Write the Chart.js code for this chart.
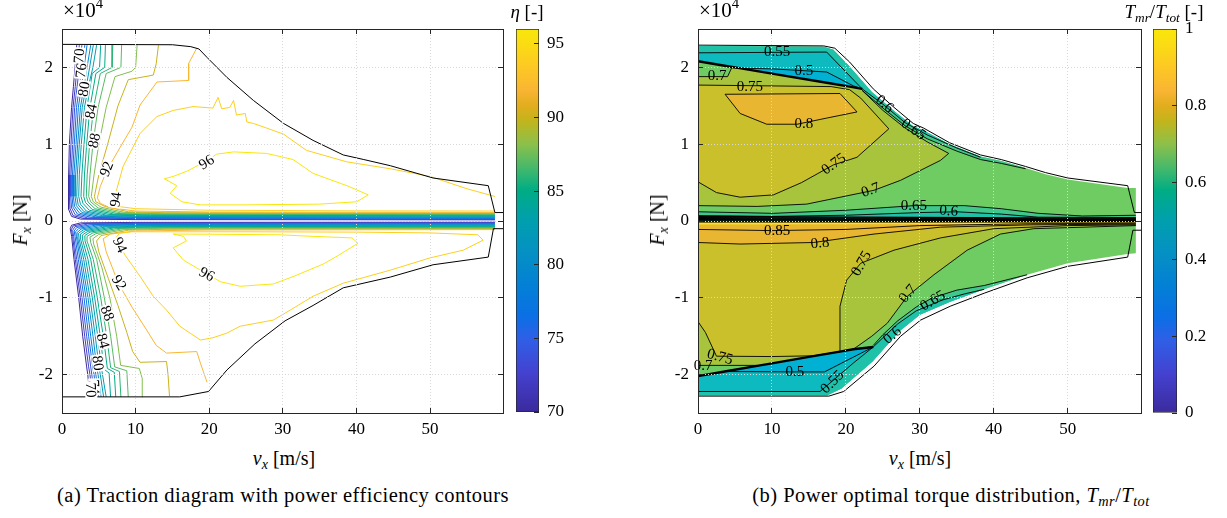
<!DOCTYPE html>
<html>
<head>
<meta charset="utf-8">
<title>Traction diagram and torque distribution</title>
<script src="https://cdn.jsdelivr.net/npm/chart.js@4.4.1/dist/chart.umd.min.js"></script>
<style>
  body { margin:0; width:1227px; height:518px; background:#fff; position:relative; overflow:hidden;
         font-family:'Liberation Serif','DejaVu Serif',serif; color:#000; }
  canvas { position:absolute; top:0; }
  .txt { position:absolute; white-space:nowrap; line-height:1; font-size:20px; }
  .cap { font-size:20.5px; letter-spacing:0.45px; }
  .mid { transform:translateX(-50%); }
  .vert { transform:translate(-50%,-50%) rotate(-90deg); }
  sub { font-size:70%; vertical-align:-0.3em; line-height:0; }
  sup { font-size:70%; vertical-align:0.6em; line-height:0; }
</style>
</head>
<body>
<canvas id="effChart" width="505" height="445" style="left:0"></canvas>
<canvas id="effBar" width="62" height="445" style="left:510px"></canvas>
<canvas id="ratioChart" width="507" height="445" style="left:636px"></canvas>
<canvas id="ratioBar" width="80" height="445" style="left:1147px"></canvas>

<div class="txt" style="left:63px;top:0px;font-size:21px">×10<sup>4</sup></div>
<div class="txt" style="left:699px;top:0px;font-size:21px">×10<sup>4</sup></div>
<div class="txt mid" style="left:527px;top:2px;font-size:19px"><i>η</i> [-]</div>
<div class="txt mid" style="left:1164px;top:2px;font-size:19px"><i>T<sub>mr</sub></i>/<i>T<sub>tot</sub></i> [-]</div>
<div class="txt vert" style="left:20px;top:220px"><i>F<sub>x</sub></i> [N]</div>
<div class="txt vert" style="left:657px;top:220px"><i>F<sub>x</sub></i> [N]</div>
<div class="txt mid" style="left:284px;top:448px"><i>v<sub>x</sub></i> [m/s]</div>
<div class="txt mid" style="left:920px;top:448px"><i>v<sub>x</sub></i> [m/s]</div>
<div class="txt mid cap" style="left:283px;top:485px">(a) Traction diagram with power efficiency contours</div>
<div class="txt mid cap" style="left:951px;top:485px">(b) Power optimal torque distribution, <i>T<sub>mr</sub></i>/<i>T<sub>tot</sub></i></div>

<script>
const FONT = "'Liberation Serif','DejaVu Serif',serif";
const INK = '#262626';

// ticks (F_x is kept in units of 1e4 N, as on the axis)
const vTicks = [0, 10, 20, 30, 40, 50];
const fTicks = [-2, -1, 0, 1, 2];
const etaTicks = [70, 75, 80, 85, 90, 95];
const ratioTicks = [0, 0.2, 0.4, 0.6, 0.8, 1];

// colormap
const cmapStops = [[0,'#3b2a9c'],[0.1,'#4441cf'],[0.19,'#2f5fe6'],[0.25,'#0b6fe5'],[0.33,'#0380d6'],
  [0.42,'#0591c3'],[0.5,'#009fae'],[0.58,'#00ad84'],[0.64,'#48b96a'],[0.7,'#8cc04a'],[0.76,'#c2b51c'],
  [0.8,'#e2ad1e'],[0.84,'#f9b533'],[0.9,'#fdc824'],[0.95,'#fbd916'],[1,'#f9e70b']];

// ---------- (a) traction limits and efficiency contours [v_x, F_x] ----------
const aBoundUp = [[0,2.3],[15,2.295],[17.5,2.27],[18.6,2.24],[19.7,2.13],[22.4,1.87],[26,1.57],[30.1,1.27],[34.1,1.05],[38.2,0.86],[41,0.8],[44.6,0.72],[50.4,0.56],[57.9,0.46],[58.8,0.11],[60,0.11]];
const aBoundLo = [[0,-2.29],[16,-2.29],[19.9,-2.22],[22.4,-1.94],[26.2,-1.6],[30.3,-1.3],[34.1,-1.1],[38.2,-0.87],[44.6,-0.73],[50.4,-0.57],[57.9,-0.47],[58.6,-0.1],[60,-0.1]];

const etaUp70 = [[2.0,2.29],[1.77,2.0],[1.55,1.75],[1.3,1.48],[1.0,1.0],[0.9,0.6],[0.86,0.32],[0.95,0.15],[1.3,0.06],[2.5,0.025],[10,0.018],[58.8,0.015]];
const etaUp72 = [[2.35,2.29],[2.05,2.0],[1.8,1.75],[1.5,1.48],[1.22,1.0],[1.05,0.6],[1.0,0.32],[1.1,0.16],[1.5,0.07],[3,0.032],[10,0.024],[58.8,0.021]];
const etaUp74 = [[2.7,2.29],[2.35,2.0],[2.05,1.75],[1.72,1.48],[1.45,1.0],[1.22,0.6],[1.18,0.32],[1.3,0.17],[1.8,0.08],[3.5,0.04],[10,0.031],[58.8,0.027]];
const etaUp76 = [[3.1,2.29],[2.7,2.0],[2.35,1.75],[1.97,1.48],[1.67,1.0],[1.42,0.6],[1.36,0.32],[1.5,0.18],[2.1,0.09],[4,0.047],[10,0.038],[58.8,0.034]];
const etaUp78 = [[3.4,2.29],[3.0,2.0],[2.65,1.75],[2.22,1.48],[1.9,1.0],[1.62,0.6],[1.54,0.32],[1.7,0.19],[2.4,0.1],[4.5,0.055],[10,0.045],[58.8,0.041]];
const etaUp80 = [[3.9,2.29],[3.4,2.0],[3.0,1.75],[2.5,1.48],[2.13,1.0],[1.85,0.6],[1.77,0.32],[1.95,0.2],[2.7,0.11],[5,0.062],[10,0.052],[58.8,0.048]];
const etaUp82 = [[4.25,2.29],[3.75,2.0],[3.3,1.75],[2.75,1.48],[2.35,1.0],[2.08,0.6],[2.0,0.32],[2.2,0.21],[3.0,0.12],[5.5,0.07],[10,0.059],[58.8,0.055]];
const etaUp83 = [[4.7,2.29],[4.2,2.0],[3.65,1.78],[3.05,1.48],[2.62,1.0],[2.35,0.6],[2.27,0.32],[2.5,0.22],[3.3,0.13],[6,0.077],[12,0.066],[58.8,0.062]];
const etaUp84 = [[5.25,2.29],[5.1,2.0],[4.1,1.92],[3.4,1.48],[2.99,1.0],[2.7,0.6],[2.58,0.32],[2.85,0.23],[3.7,0.14],[6.5,0.084],[12,0.073],[58.8,0.069]];
const etaUp85 = [[5.9,2.29],[5.8,2.0],[4.6,1.92],[3.8,1.48],[3.35,1.0],[3.05,0.6],[2.95,0.32],[3.2,0.24],[4.1,0.15],[7,0.091],[12,0.08],[58.8,0.076]];
const etaUp86 = [[6.9,2.29],[6.8,2.0],[5.2,1.92],[4.3,1.48],[3.75,1.0],[3.42,0.6],[3.3,0.32],[3.55,0.245],[4.5,0.16],[7.5,0.098],[12,0.087],[58.8,0.083]];
const etaUp87 = [[8.1,2.29],[8.0,2.0],[6.0,1.92],[4.9,1.48],[4.2,1.0],[3.8,0.6],[3.62,0.32],[3.9,0.25],[4.9,0.17],[8,0.105],[14,0.094],[58.8,0.09]];
const etaUp88 = [[10.2,2.29],[10.0,2.0],[9.5,1.95],[7.2,1.88],[6.0,1.48],[5.0,1.0],[4.35,0.6],[3.98,0.32],[4.25,0.25],[5.3,0.18],[8.5,0.112],[14,0.101],[58.8,0.097]];
const etaUp90 = [[13.1,2.29],[12.8,2.05],[12.4,1.9],[9.0,1.84],[7.6,1.5],[6.2,1.0],[5.0,0.6],[4.4,0.32],[4.6,0.25],[5.8,0.19],[9,0.12],[14,0.108],[58.8,0.104]];
const etaUp92 = [[18.3,2.25],[17.2,2.05],[17.2,1.83],[12.9,1.81],[10.6,1.51],[9.5,1.22],[7.9,0.96],[6.1,0.66],[5.2,0.45],[4.8,0.3],[5.2,0.23],[6.6,0.17],[10,0.13],[20,0.117],[58.8,0.112]];
const etaUp94 = [[58.8,0.32],[55,0.42],[50,0.58],[44.6,0.68],[38.7,0.77],[33.2,0.92],[30.1,1.13],[27.8,1.21],[26,1.27],[25.1,1.29],[24.9,1.4],[23.7,1.38],[23.3,1.57],[22.8,1.48],[21.7,1.46],[21.2,1.61],[20.5,1.47],[17.8,1.49],[15.1,1.44],[12.9,1.36],[10.6,1.14],[8.3,0.71],[7.4,0.4],[7.0,0.26],[7.6,0.19],[10,0.16],[20,0.14],[40,0.132],[58.8,0.13]];
const etaUp96 = [[15.1,0.58],[17,0.65],[19.4,0.77],[21,0.87],[23.3,0.9],[27.8,0.88],[31.4,0.8],[34.1,0.62],[38.7,0.46],[41.6,0.34],[40,0.25],[35,0.22],[25,0.21],[18.8,0.21],[16.3,0.25],[14.7,0.36],[15.6,0.46],[13.9,0.55],[15.1,0.58]];

const etaLo70 = [[3.8,-2.29],[3.5,-2.0],[3.35,-1.9],[2.81,-1.5],[2.27,-1.0],[1.63,-0.5],[1.31,-0.2],[1.12,-0.1],[1.3,-0.055],[2.5,-0.025],[10,-0.018],[58.8,-0.015]];
const etaLo72 = [[4.1,-2.29],[3.8,-2.0],[3.62,-1.9],[3.08,-1.5],[2.49,-1.0],[1.81,-0.5],[1.45,-0.2],[1.28,-0.11],[1.5,-0.065],[3,-0.032],[10,-0.024],[58.8,-0.021]];
const etaLo74 = [[4.4,-2.29],[4.05,-2.0],[3.9,-1.9],[3.35,-1.5],[2.72,-1.0],[2.0,-0.5],[1.58,-0.2],[1.45,-0.12],[1.75,-0.075],[3.5,-0.04],[10,-0.031],[58.8,-0.027]];
const etaLo76 = [[4.7,-2.29],[4.35,-2.0],[4.17,-1.9],[3.62,-1.5],[2.99,-1.0],[2.22,-0.5],[1.77,-0.2],[1.65,-0.13],[2.0,-0.085],[4,-0.047],[10,-0.038],[58.8,-0.034]];
const etaLo78 = [[5.0,-2.29],[4.6,-2.0],[4.44,-1.9],[3.9,-1.5],[3.26,-1.0],[2.45,-0.5],[1.95,-0.2],[1.85,-0.14],[2.3,-0.095],[4.5,-0.055],[10,-0.045],[58.8,-0.041]];
const etaLo80 = [[5.3,-2.29],[4.9,-2.0],[4.71,-1.9],[4.21,-1.5],[3.53,-1.0],[2.68,-0.5],[2.13,-0.22],[2.05,-0.15],[2.6,-0.105],[5,-0.062],[10,-0.052],[58.8,-0.048]];
const etaLo82 = [[5.65,-2.29],[5.2,-2.0],[5.03,-1.9],[4.52,-1.5],[3.8,-1.0],[2.95,-0.5],[2.31,-0.23],[2.25,-0.16],[2.9,-0.115],[5.5,-0.07],[10,-0.059],[58.8,-0.055]];
const etaLo83 = [[6.0,-2.29],[5.5,-2.0],[5.34,-1.9],[4.85,-1.5],[4.12,-1.0],[3.22,-0.5],[2.54,-0.24],[2.5,-0.17],[3.2,-0.125],[6,-0.077],[12,-0.066],[58.8,-0.062]];
const etaLo84 = [[6.6,-2.29],[6.4,-1.98],[5.7,-1.93],[5.2,-1.5],[4.44,-1.0],[3.53,-0.5],[2.81,-0.25],[2.8,-0.18],[3.5,-0.135],[6.5,-0.084],[12,-0.073],[58.8,-0.069]];
const etaLo85 = [[7.3,-2.29],[7.1,-1.97],[6.16,-1.92],[5.61,-1.5],[4.8,-1.0],[3.9,-0.5],[3.13,-0.26],[3.1,-0.19],[3.8,-0.145],[7,-0.091],[12,-0.08],[58.8,-0.076]];
const etaLo86 = [[8.0,-2.29],[7.8,-1.96],[6.61,-1.91],[6.07,-1.5],[5.26,-1.0],[4.25,-0.5],[3.44,-0.27],[3.4,-0.2],[4.2,-0.155],[7.5,-0.098],[12,-0.087],[58.8,-0.083]];
const etaLo87 = [[9.0,-2.29],[8.8,-1.95],[7.16,-1.9],[6.61,-1.5],[5.75,-1.0],[4.71,-0.5],[3.9,-0.28],[3.8,-0.21],[4.6,-0.165],[8,-0.105],[14,-0.094],[58.8,-0.09]];
const etaLo88 = [[11.0,-2.29],[10.9,-2.05],[10.5,-1.92],[7.97,-1.88],[7.43,-1.5],[6.5,-1.0],[5.4,-0.6],[4.3,-0.3],[4.2,-0.23],[5.0,-0.175],[8.5,-0.112],[14,-0.101],[58.8,-0.097]];
const etaLo90 = [[14.6,-2.28],[14.4,-2.0],[14.2,-1.83],[10.6,-1.84],[9.6,-1.7],[8.8,-1.45],[7.6,-1.1],[6.3,-0.75],[5.0,-0.4],[4.7,-0.26],[5.3,-0.19],[9,-0.12],[14,-0.108],[58.8,-0.104]];
const etaLo92 = [[58.8,-0.112],[20,-0.117],[10,-0.13],[6.6,-0.17],[5.6,-0.23],[6.0,-0.4],[7.65,-0.81],[9.5,-1.12],[11.5,-1.42],[12.8,-1.62],[14.2,-1.72],[18.3,-1.7],[18.8,-1.85],[19.7,-2.1]];
const etaLo94 = [[9.5,-0.14],[7.8,-0.16],[7.3,-0.22],[7.9,-0.33],[8.6,-0.45],[10.6,-0.72],[12.4,-0.98],[14.2,-1.16],[16,-1.37],[18.8,-1.55],[20.5,-1.52],[22.4,-1.46],[24.2,-1.37],[28.7,-1.29],[31,-1.16],[34.1,-0.98],[38.2,-0.81],[44.6,-0.64],[50,-0.48],[54.5,-0.38],[57.2,-0.25],[56.5,-0.18],[50,-0.155],[40,-0.145],[25,-0.14],[9.5,-0.14]];
const etaLo96 = [[15.1,-0.17],[20,-0.172],[29.6,-0.18],[34.1,-0.2],[39.4,-0.22],[40.2,-0.29],[37.5,-0.45],[35.5,-0.56],[31.5,-0.72],[28.7,-0.82],[24.2,-0.85],[21.5,-0.79],[18.8,-0.64],[16.5,-0.51],[15.1,-0.35],[16.9,-0.26],[16.5,-0.2],[15.1,-0.17]];

const etaContours = [
  [70, etaUp70], [72, etaUp72], [74, etaUp74], [76, etaUp76], [78, etaUp78], [80, etaUp80], [82, etaUp82], [83, etaUp83],
  [84, etaUp84], [85, etaUp85], [86, etaUp86], [87, etaUp87], [88, etaUp88], [90, etaUp90], [92, etaUp92], [94, etaUp94], [96, etaUp96],
  [70, etaLo70], [72, etaLo72], [74, etaLo74], [76, etaLo76], [78, etaLo78], [80, etaLo80], [82, etaLo82], [83, etaLo83],
  [84, etaLo84], [85, etaLo85], [86, etaLo86], [87, etaLo87], [88, etaLo88], [90, etaLo90], [92, etaLo92], [94, etaLo94], [96, etaLo96]
];

// contour labels: text, v_x, F_x, rotation (deg)
const etaLabels = [['70',2.3,2.15,-86],['76',2.55,1.96,-84],['80',2.95,1.72,-80],['84',3.9,1.43,-78],['88',4.35,1.05,-78],
  ['92',6.0,0.68,-68],['94',7.25,0.28,-82],['96',19.6,0.77,-32],
  ['94',7.9,-0.31,65],['92',7.8,-0.8,58],['88',6.2,-1.2,68],['84',5.6,-1.56,75],['80',4.9,-1.85,82],
  ['74',4.4,-2.16,88],['70',3.95,-2.2,88],['96',19.7,-0.69,28]];

// ---------- (b) torque split T_mr/T_tot [v_x, F_x] ----------
const bBoundUp = [[0,2.29],[17,2.28],[18.5,2.25],[20.5,2.07],[23.7,1.72],[26.5,1.48],[29.1,1.27],[30.5,1.21],[34,1.02],[38.2,0.86],[41,0.8],[44.3,0.71],[47,0.63],[50,0.56],[58.1,0.46],[59,0.11],[60,0.11]];
const bBoundLo = [[0,-2.28],[17.7,-2.28],[19.7,-2.22],[23.8,-1.89],[27.4,-1.5],[30.1,-1.29],[34.1,-1.11],[38.7,-0.94],[44.5,-0.74],[50,-0.59],[58.1,-0.47],[58.8,-0.12],[60,-0.12]];
const dataUp = [[0,2.28],[17,2.27],[18.3,2.23],[20.3,2.03],[23.5,1.68],[26.3,1.45],[29,1.24],[30.5,1.18],[34,1.0],[38.2,0.84],[41,0.78],[44.3,0.69],[47,0.61],[50,0.54],[58.1,0.43],[59.2,0.43]];
const dataLo = [[0,-2.27],[17.5,-2.27],[19.4,-2.18],[23.6,-1.83],[27.2,-1.44],[30,-1.22],[34.1,-1.05],[38.7,-0.89],[44.5,-0.7],[50,-0.55],[58.1,-0.43],[59.2,-0.42]];
const zeroAxis = [[0,0],[59.2,0]];

const thickUp = [[0,2.08],[4.6,2.005],[5.6,1.99],[10.2,1.915],[17.4,1.8],[20.5,1.75],[22.2,1.72]];
const c55Up = [[0,2.19],[17.4,2.2],[22.2,1.72]];
const c50Up = [[5.6,1.99],[10.2,1.98],[17.4,1.94],[21,1.76],[22.2,1.72]];
const c60Up = [[22.2,1.72],[25,1.52],[28,1.28],[31,1.12],[35,0.95],[38.2,0.83]];
const c65Up = [[22.2,1.7],[25,1.47],[28,1.24],[31,1.07],[35,0.91],[38.2,0.8],[41,0.75],[44.3,0.68]];
const c70UpLeft = [[0,1.88],[4,1.88],[4.6,2.005]];
const c70Up = [[22.2,1.7],[25,1.44],[28,1.21],[31,1.03],[33.9,0.88],[32.8,0.79],[27.4,0.53],[23.8,0.4],[14.7,0.22],[8,0.19],[0,0.2]];
const c75Up = [[0,1.77],[18,1.75],[20.5,1.71],[22,1.6],[25.8,1.2],[21.5,0.83],[18.3,0.73],[14,0.5],[10.2,0.34],[5.7,0.31],[2.5,0.37],[0,0.51]];
const c80Up = [[3.66,1.65],[19.2,1.66],[21.5,1.42],[17.4,1.34],[13.4,1.26],[9.3,1.26],[5.7,1.4],[3.66,1.65]];
const c65Zero = [[0,0.12],[10.2,0.1],[20,0.14],[29.2,0.2],[36,0.2],[41,0.16],[46,0.1],[52,0.065],[59.2,0.075]];
const c60Zero = [[0,0.07],[10,0.06],[20,0.075],[30,0.11],[35,0.12],[41,0.09],[46,0.05],[59.2,0.045]];
const zeroBunch = [
  [[0,0.058],[59.2,0.034]], [[0,0.044],[59.2,0.025]], [[0,0.03],[59.2,0.016]],
  [[0,0.016],[59.2,0.007]], [[0,0.002],[59.2,-0.002]], [[0,-0.012],[59.2,-0.01]]
];
const peakBand = [[0,-0.02],[59.2,-0.015],[59.2,-0.035],[0,-0.045]];
const c85Lo = [[0,-0.11],[10,-0.125],[20,-0.11],[30,-0.06],[45,-0.035],[59.2,-0.03]];
const c80Lo = [[0,-0.28],[5.7,-0.3],[15.6,-0.28],[23.8,-0.17],[32.8,-0.08],[45,-0.05],[59.2,-0.04]];
const c75Lo = [[0,-1.31],[1,-1.45],[2.5,-1.76],[10,-1.765],[15.6,-1.755],[19.2,-1.7],[19.2,-1.4],[19.2,-1.11],[20.1,-0.77],[22,-0.55],[26.5,-0.38],[32.8,-0.22],[40,-0.1],[50,-0.06],[59.2,-0.05]];
const c70LoLeft = [[0,-1.88],[8,-1.88]];
const c70Lo = [[21,-1.67],[23.5,-1.5],[25.6,-1.33],[28.3,-0.98],[31.9,-0.7],[36.4,-0.38],[40.9,-0.17],[45.4,-0.1],[59.2,-0.06]];
const thickLo = [[0,-2.02],[3.6,-1.96],[8,-1.887],[10,-1.853],[15.6,-1.76],[19.2,-1.7],[21,-1.67],[23.7,-1.64]];
const c50Lo = [[3.6,-1.96],[13.1,-1.965],[17.1,-1.965],[23.7,-1.64]];
const c55Lo = [[0,-2.22],[16.5,-2.22],[18.1,-2.09],[21,-1.85],[23.7,-1.64]];
const c60Lo = [[23.7,-1.64],[25,-1.52],[27,-1.34],[29.5,-1.17],[33,-1.03],[36,-0.95],[38.7,-0.89]];
const c65Lo = [[23.7,-1.62],[25,-1.48],[27,-1.3],[29.5,-1.12],[31.7,-1.0],[35,-0.9],[38.7,-0.84],[44.5,-0.7]];

const ratioLabels = [['0.55',10.7,2.21,0],['0.5',14.3,1.96,0],['0.7',2.6,1.9,0],['0.75',7.0,1.76,0],['0.8',14.3,1.27,0],
  ['0.75',18.3,0.75,-35],['0.7',23.3,0.41,-20],['0.65',29.2,0.21,0],['0.6',33.9,0.14,5],['0.6',25.3,1.53,40],['0.65',29.2,1.2,35],
  ['0.85',10.7,-0.12,0],['0.8',16.5,-0.28,-5],['0.75',22,-0.55,-60],['0.7',28.3,-0.94,-50],['0.65',31.7,-1.03,-30],
  ['0.6',26.2,-1.48,-40],['0.55',18.1,-2.09,-45],['0.5',13.1,-1.96,0],['0.75',3.0,-1.76,15],['0.7',0.7,-1.87,0]];

// ---------- helpers ----------
function hexRgb(h) { return [1, 3, 5].map(i => parseInt(h.substr(i, 2), 16)); }
function cmap(t) {
  t = Math.max(0, Math.min(1, t));
  for (let i = 1; i < cmapStops.length; i++) {
    const [t1, c1] = cmapStops[i];
    if (t <= t1) {
      const [t0, c0] = cmapStops[i - 1];
      const f = (t - t0) / (t1 - t0), a = hexRgb(c0), b = hexRgb(c1);
      return 'rgb(' + a.map((v, k) => Math.round(v + (b[k] - v) * f)).join(',') + ')';
    }
  }
  return cmapStops[cmapStops.length - 1][1];
}
const pts = a => a.map(p => ({x: p[0], y: p[1]}));
const rev = a => a.slice().reverse();
function line(a, color, width) {
  return {data: pts(a), showLine: true, borderColor: color, borderWidth: width, pointRadius: 0, fill: false};
}
function area(a, color) {
  return {data: pts(a), showLine: true, borderColor: 'rgba(0,0,0,0)', borderWidth: 0, backgroundColor: color, pointRadius: 0, fill: 'shape'};
}
const tickText = v => String(Math.round(v * 10) / 10);

function labelPlugin(list, boxed) {
  return {
    id: 'clabels',
    afterDatasetsDraw(chart) {
      const {ctx, scales: {x, y}} = chart;
      ctx.save();
      ctx.font = '15px ' + FONT;
      ctx.textAlign = 'center';
      ctx.textBaseline = 'middle';
      for (const [txt, v, f, rot] of list) {
        ctx.save();
        ctx.translate(x.getPixelForValue(v), y.getPixelForValue(f));
        ctx.rotate(rot * Math.PI / 180);
        if (boxed) {
          const w = ctx.measureText(txt).width;
          ctx.fillStyle = '#fff';
          ctx.fillRect(-w / 2 - 1, -6, w + 2, 12);
        }
        ctx.fillStyle = '#000';
        ctx.fillText(txt, 0, 1);
        ctx.restore();
      }
      ctx.restore();
    }
  };
}

function frame() {
  const grid = {color: '#d8d8d8', tickColor: INK, tickLength: -5, z: 1};
  const border = {color: INK, width: 1, dash: [1, 2], z: 2};
  const font = {family: FONT, size: 17};
  const setX = s => { s.ticks = vTicks.map(v => ({value: v})); };
  const setY = s => { s.ticks = fTicks.map(v => ({value: v})); };
  return {
    x: {type: 'linear', position: 'bottom', min: 0, max: 59.9, afterBuildTicks: setX, afterFit: s => { s.height = 32; },
        grid, border, ticks: {font, color: '#000', padding: 11, z: 2, callback: tickText}},
    y: {type: 'linear', position: 'left', min: -2.5, max: 2.5, afterBuildTicks: setY, afterFit: s => { s.width = 62; },
        grid, border, ticks: {font, color: '#000', padding: 14, z: 2, callback: tickText}},
    xTop: {type: 'linear', position: 'top', min: 0, max: 59.9, afterBuildTicks: setX, afterFit: s => { s.height = 0; },
        grid: {...grid, drawOnChartArea: false}, border, ticks: {display: false}},
    yRight: {type: 'linear', position: 'right', min: -2.5, max: 2.5, afterBuildTicks: setY, afterFit: s => { s.width = 0; },
        grid: {...grid, drawOnChartArea: false}, border, ticks: {display: false}}
  };
}

function mainChart(id, sets, labels, boxed) {
  return new Chart(document.getElementById(id), {
    type: 'scatter',
    data: {datasets: rev(sets)},   // first in list is painted first (bottom)
    options: {
      responsive: false, animation: false, events: [],
      layout: {padding: {left: 0, top: 29, right: 2, bottom: 0}},
      plugins: {legend: {display: false}, tooltip: {enabled: false}},
      scales: frame()
    },
    plugins: [labelPlugin(labels, boxed)]
  });
}

function colorbar(id, lo, hi, ticks, axisWidth, padBottom) {
  const gradient = chart => {
    const a = chart.chartArea;
    if (!a) return cmap(0.5);
    const g = chart.ctx.createLinearGradient(0, a.bottom, 0, a.top);
    cmapStops.forEach(([t, c]) => g.addColorStop(t, c));
    return g;
  };
  const chart = new Chart(document.getElementById(id), {
    type: 'bar',
    data: {labels: [''], datasets: [{data: [[lo, hi]], backgroundColor: c => gradient(c.chart), borderColor: INK,
      borderWidth: 1, borderSkipped: false, barPercentage: 1, categoryPercentage: 1}]},
    options: {
      responsive: false, animation: false, events: [],
      layout: {padding: {left: 6, top: 29, right: 0, bottom: padBottom}},
      plugins: {legend: {display: false}, tooltip: {enabled: false}},
      scales: {
        x: {display: false},
        y: {position: 'right', min: lo, max: hi, beginAtZero: false,
            afterBuildTicks: s => { s.ticks = ticks.map(v => ({value: v})); },
            afterFit: s => { s.width = axisWidth; },
            grid: {drawOnChartArea: false, tickColor: INK, tickLength: -5, z: 1},
            border: {display: false},
            ticks: {font: {family: FONT, size: 17}, color: '#000', padding: 13, z: 2, callback: tickText}}
      }
    }
  });
  chart.update('none');
}

// ---------- panel (a) ----------
const effSets = [];
for (const [lev, path] of etaContours) effSets.push(line(path, cmap((lev - 70) / 26), 1));
effSets.push(line(aBoundUp, '#000', 1), line(aBoundLo, '#000', 1));
mainChart('effChart', effSets, etaLabels, true);
colorbar('effBar', 70, 96, etaTicks, 33, 33);

// ---------- panel (b) ----------
const K = '#000';
const ratioSets = [
  area(dataUp.concat(rev(dataLo)), '#6fcc63'),
  area(dataUp.slice(0, 12).concat(rev(c65Up), rev(thickUp)), '#40c78b'),
  area(dataUp.slice(0, 10).concat(rev(c60Up), rev(thickUp)), '#20c1a9'),
  area(c55Up.concat(rev(thickUp)), '#0cbabf'),
  area(c50Up.concat(rev(thickUp.slice(2))), '#00b1d3'),
  area(dataLo.slice(0, 9).concat(rev(c65Lo), rev(thickLo)), '#40c78b'),
  area(dataLo.slice(0, 8).concat(rev(c60Lo), rev(thickLo)), '#20c1a9'),
  area(c55Lo.concat(rev(thickLo)), '#0cbabf'),
  area(c50Lo.concat(rev(thickLo.slice(1))), '#00b1d3'),
  area(c70UpLeft.concat(thickUp.slice(2), c70Up), '#a7c43c'),
  area(c75Up, '#cac02b'),
  area(c80Up, '#e9b631'),
  area(c70LoLeft.concat(thickLo.slice(3, 7), c70Lo.slice(1), rev(zeroAxis)), '#a7c43c'),
  area(c75Lo.concat(rev(zeroAxis)), '#cac02b'),
  area(c80Lo.concat(rev(zeroAxis)), '#e9b631'),
  area(peakBand, '#f8e71b'),
  area(c65Zero.concat(rev(zeroAxis)), '#40c78b'),
  area(c60Zero.concat(rev(zeroAxis)), '#20c1a9')
];
[c55Up, c50Up, c60Up, c65Up, c70UpLeft, c70Up, c75Up, c80Up, c65Zero, c60Zero,
 c85Lo, c80Lo, c75Lo, c70LoLeft, c70Lo, c50Lo, c55Lo, c60Lo, c65Lo].forEach(p => ratioSets.push(line(p, K, 0.9)));
zeroBunch.forEach(p => ratioSets.push(line(p, K, 1.4)));
ratioSets.push(line(thickUp, K, 2.4), line(thickLo, K, 2.4));
ratioSets.push(line(bBoundUp, K, 1), line(bBoundLo, K, 1));
mainChart('ratioChart', ratioSets, ratioLabels, false);
colorbar('ratioBar', 0, 1, ratioTicks, 50, 32);
</script>
</body>
</html>
